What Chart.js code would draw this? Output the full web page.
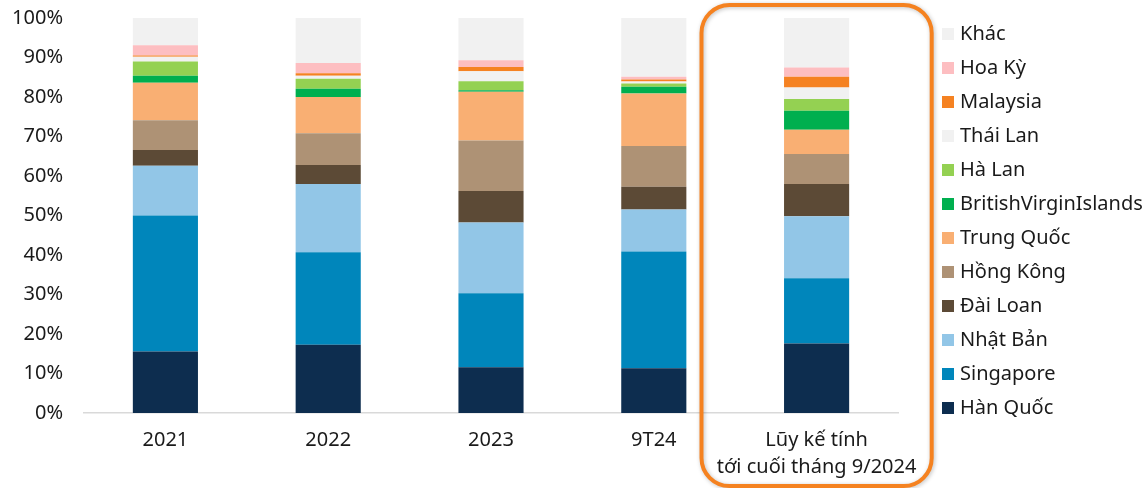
<!DOCTYPE html>
<html>
<head>
    <title>Cơ cấu vốn FDI theo đối tác</title>
    <script src="https://cdn.jsdelivr.net/npm/chart.js"></script>
    <style type="text/css">
        html, body { margin: 0; padding: 0; background: #ffffff; }
        #wrap { width: 1145px; height: 488px; position: relative; }
    </style>
</head>
<body>
    <div id="wrap"><canvas id="fdi-chart"></canvas></div>

    <script type="text/javascript">
        // Categories (x axis)
        const periods = ['2021', '2022', '2023', '9T24', ['Lũy kế tính', 'tới cuối tháng 9/2024']];

        // Share of each partner, % (bottom to top of the stack)
        const hanQuoc     = [15.6, 17.3, 11.6, 11.3, 17.6];
        const singapore   = [34.4, 23.4, 18.7, 29.6, 16.5];
        const nhatBan     = [12.6, 17.3, 17.9, 10.6, 15.7];
        const daiLoan     = [4.0, 4.8, 8.0, 5.8, 8.2];
        const hongKong    = [7.5, 8.0, 12.8, 10.3, 7.6];
        const trungQuoc   = [9.5, 9.2, 12.3, 13.3, 6.1];
        const bvi         = [1.8, 2.1, 0.4, 1.7, 4.8];
        const haLan       = [3.6, 2.5, 2.3, 0.8, 3.0];
        const thaiLan     = [1.2, 0.8, 2.5, 0.5, 2.9];
        const malaysia    = [0.3, 0.6, 1.1, 0.5, 2.7];
        const hoaKy       = [2.6, 2.6, 1.7, 0.7, 2.4];
        const khac        = [7.0, 11.4, 10.7, 14.9, 13.5];

        const yTicks = [0, 10, 20, 30, 40, 50, 60, 70, 80, 90, 100];

        const FONT = '"Noto Sans", "Open Sans", sans-serif';
        const TEXT = '#1a1a1a';

        const series = [
            { label: 'Hàn Quốc', data: hanQuoc, color: '#0d2d4f' },
            { label: 'Singapore', data: singapore, color: '#0086bb' },
            { label: 'Nhật Bản', data: nhatBan, color: '#92c6e7' },
            { label: 'Đài Loan', data: daiLoan, color: '#5c4a36' },
            { label: 'Hồng Kông', data: hongKong, color: '#ae9275' },
            { label: 'Trung Quốc', data: trungQuoc, color: '#f9af73' },
            { label: 'BritishVirginIslands', data: bvi, color: '#00af4f' },
            { label: 'Hà Lan', data: haLan, color: '#94d152' },
            { label: 'Thái Lan', data: thaiLan, color: '#f1f1f1' },
            { label: 'Malaysia', data: malaysia, color: '#f58222' },
            { label: 'Hoa Kỳ', data: hoaKy, color: '#fdbec1' },
            { label: 'Khác', data: khac, color: '#f1f1f1' }
        ];

        // Custom legend on the right, top item = last dataset
        const sideLegend = {
            id: 'sideLegend',
            afterDraw(chart) {
                const ctx = chart.ctx;
                const ds = chart.data.datasets;
                ctx.save();
                ctx.font = '20px ' + FONT;
                ctx.textBaseline = 'middle';
                ctx.textAlign = 'left';
                for (let i = 0; i < ds.length; i++) {
                    const d = ds[ds.length - 1 - i];
                    const y = 34 + i * 34;
                    ctx.fillStyle = d.backgroundColor;
                    ctx.fillRect(942, y - 6, 12, 12);
                    ctx.fillStyle = TEXT;
                    ctx.fillText(d.label, 960, y);
                }
                ctx.restore();
            }
        };

        // Rounded orange frame around the cumulative category
        const highlightFrame = {
            id: 'highlightFrame',
            afterDraw(chart) {
                const x = chart.scales.x;
                const cx = x.getPixelForValue(4);
                const half = x.width / periods.length * 0.707;
                const ctx = chart.ctx;
                ctx.save();
                ctx.shadowColor = 'rgba(0,0,0,0.25)';
                ctx.shadowBlur = 4;
                ctx.shadowOffsetX = 1;
                ctx.shadowOffsetY = 1;
                ctx.strokeStyle = '#f58220';
                ctx.lineWidth = 4;
                ctx.beginPath();
                ctx.roundRect(cx - half, 5, half * 2, 481, 28);
                ctx.stroke();
                ctx.restore();
            }
        };

        new Chart(document.getElementById('fdi-chart'), {
            type: 'bar',
            data: {
                labels: periods,
                datasets: series.map(s => ({
                    label: s.label,
                    data: s.data,
                    backgroundColor: s.color,
                    borderWidth: 0,
                    barPercentage: 0.4,
                    categoryPercentage: 1.0
                }))
            },
            options: {
                responsive: true,
                maintainAspectRatio: false,
                animation: false,
                layout: { padding: { top: 18, right: 247, left: 0, bottom: 0 } },
                plugins: {
                    legend: { display: false },
                    tooltip: { enabled: false }
                },
                scales: {
                    x: {
                        stacked: true,
                        grid: { display: false, drawTicks: false },
                        border: { display: true, color: '#d9d9d9', width: 1.5 },
                        ticks: {
                            color: TEXT,
                            padding: 14,
                            maxRotation: 0,
                            autoSkip: false,
                            font: { family: FONT, size: 20, lineHeight: 1.35 }
                        },
                        afterFit(scale) { scale.height = 75; }
                    },
                    y: {
                        stacked: true,
                        min: 0,
                        max: 100,
                        grid: { display: false, drawTicks: false },
                        border: { display: false },
                        afterBuildTicks(scale) {
                            scale.ticks = yTicks.map(v => ({ value: v }));
                        },
                        ticks: {
                            color: TEXT,
                            padding: 21,
                            font: { family: FONT, size: 20 },
                            callback: v => v + '%'
                        },
                        afterFit(scale) {
                            scale.width = 84;
                            scale.paddingTop = 0;
                            scale.paddingBottom = 0;
                        }
                    }
                }
            },
            plugins: [highlightFrame, sideLegend]
        });
    </script>
</body>
</html>
